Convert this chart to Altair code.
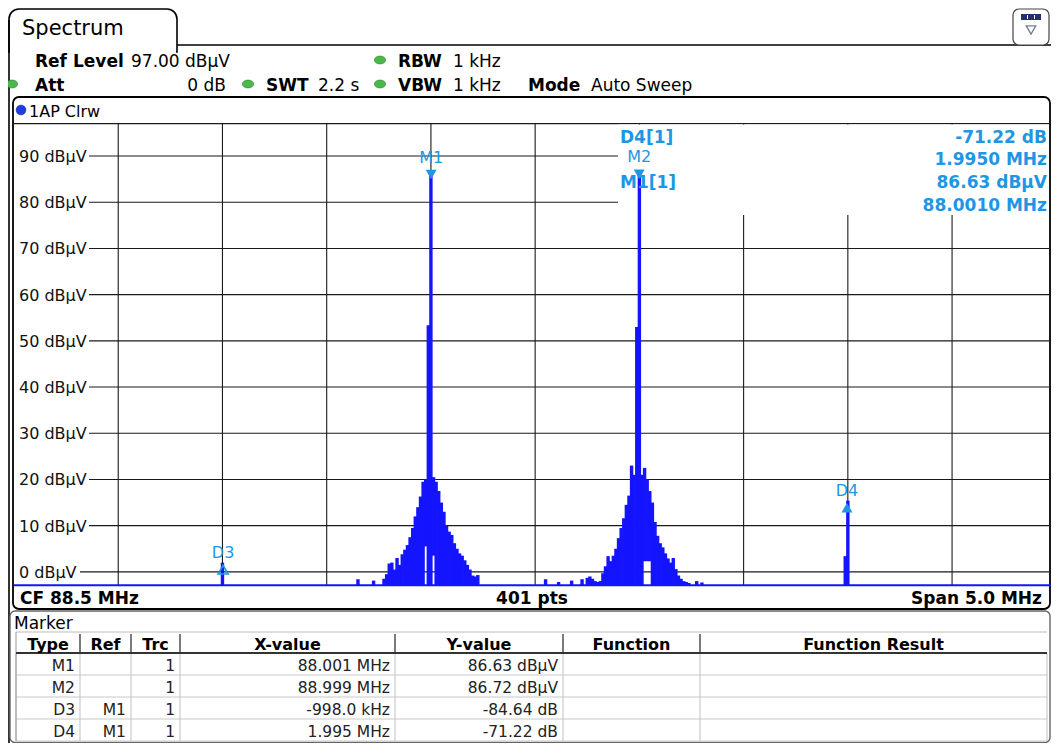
import altair as alt
import pandas as pd

FONT = "DejaVu Sans"
OX, OY = 8, 8          # page margin
W, H = 1043, 735       # whole chart in px (fits the 1059x755 window)

TRACE = "#1414ff"
MARK = "#1e96e6"
GRID = "#1a1a1a"

# ---------------- data ----------------
f_start, f_stop, n_points = 86.0, 91.0, 401
ref_level, y_bottom = 97.0, -3.0

y_ticks = [90, 80, 70, 60, 50, 40, 30, 20, 10, 0]
y_tick_labels = ["90 dBµV", "80 dBµV", "70 dBµV", "60 dBµV", "50 dBµV",
                 "40 dBµV", "30 dBµV", "20 dBµV", "10 dBµV", "0 dBµV"]
x_grid = [86.5, 87.0, 87.5, 88.0, 88.5, 89.0, 89.5, 90.0, 90.5]

hump1_first_idx = 142
hump1_levels = [-1.5, -0.5, 1.8, 2.0, 0.5, 3.0, 1.5, 3.8, 4.8, 5.8,
                7.5, 9.5, 12.0, 14.0, 16.3, 19.5, 20.0, 53.4, 86.63, 20.5,
                19.5, 17.5, 15.0, 13.0, 10.0, 8.7, 8.0, 6.2, 5.0, 4.0,
                3.5, 2.5, 1.5, 0.5, -0.8, -1.0]
hump2_first_idx = 220
hump2_levels = [-1.3, -1.0, -1.5, -2.0, -2.2, -2.0, -0.3, 1.2, 3.4, 2.3,
                3.5, 5.0, 7.3, 9.5, 11.6, 14.5, 16.5, 23.0, 21.0, 53.0,
                86.72, 21.0, 22.5, 20.0, 17.5, 15.0, 10.8, 7.8, 6.2, 5.3,
                4.0, 2.9, 2.0, 3.0, 0.6, -0.8, -1.5, -2.0, -2.2, -2.4]
spike_idx = [80, 132, 138, 178, 204, 209, 214, 218, 262, 264, 319, 320]
spike_levels = [1.99, -1.6, -1.9, -0.7, -1.6, -2.2, -1.9, -1.6, -2.0, -2.3, 3.4, 15.41]
notch_idx = [158, 161, 242, 243, 244]
notch_bottom = [5.5, 3.5, 2.3, 2.3, 2.3]
floor_level = -2.9

marker_names = ["M1", "M2", "D3", "D4"]
marker_freqs = [88.001, 88.999, 87.003, 89.996]
marker_levels = [86.63, 86.72, 1.99, 15.41]
marker_kind = ["M", "M", "D", "D"]

info_left = ["D4[1]", "M1[1]"]
info_right = ["-71.22 dB", "1.9950 MHz", "86.63 dBµV", "88.0010 MHz"]

table_cols = ["Type", "Ref", "Trc", "X-value", "Y-value", "Function", "Function Result"]
table_type = ["M1", "M2", "D3", "D4"]
table_ref = ["", "", "M1", "M1"]
table_trc = ["1", "1", "1", "1"]
table_x = ["88.001 MHz", "88.999 MHz", "-998.0 kHz", "1.995 MHz"]
table_y = ["86.63 dBµV", "86.72 dBµV", "-84.64 dB", "-71.22 dB"]

# ---------------- build tables ----------------
step = (f_stop - f_start) / (n_points - 1)
rows = []
for first, levels in ((hump1_first_idx, hump1_levels), (hump2_first_idx, hump2_levels)):
    for i, lv in enumerate(levels):
        rows.append({"idx": first + i, "top": lv})
for i, lv in zip(spike_idx, spike_levels):
    rows.append({"idx": i, "top": lv})
trace = pd.DataFrame(rows)
trace["freq"] = f_start + trace["idx"] * step
notch = dict(zip(notch_idx, notch_bottom))
trace["bottom"] = [notch.get(i, y_bottom) for i in trace["idx"]]

markers = pd.DataFrame({"name": marker_names, "freq": marker_freqs,
                        "level": marker_levels, "kind": marker_kind})
yticks = pd.DataFrame({"level": y_ticks, "label": y_tick_labels})
xgrid = pd.DataFrame({"freq": x_grid})
floor = pd.DataFrame({"f0": [f_start], "f1": [f_stop], "level": [floor_level]})

# ---------------- scales (page px -> chart px) ----------------
PL, PR, PT, PB = 14, 1056.3, 123.7, 585.7
RE = 1050      # right edge of visible frames (page px)
xs = alt.Scale(domain=[f_start, f_stop], range=[PL - OX, PR - OX], nice=False, zero=False)
ys = alt.Scale(domain=[y_bottom, ref_level], range=[PB - OY, PT - OY], nice=False, zero=False)

one = alt.Data(values=[{"k": 0}])
TY = 1.5   # small text baseline correction


def ptext(s, x, y, size=15, bold=False, color="#000", align="left"):
    return alt.Chart(one).mark_text(
        text=s, font=FONT, fontSize=size, fontWeight="bold" if bold else "normal",
        color=color, align=align, baseline="middle"
    ).encode(x=alt.value(x - OX), y=alt.value(y - OY + TY))


def hrule(x1, x2, y, color="#000", w=1.0):
    return alt.Chart(one).mark_rule(color=color, strokeWidth=w).encode(
        x=alt.value(x1 - OX), x2=alt.value(x2 - OX), y=alt.value(y - OY))


def vrule(x, y1, y2, color="#000", w=1.0):
    return alt.Chart(one).mark_rule(color=color, strokeWidth=w).encode(
        x=alt.value(x - OX), y=alt.value(y1 - OY), y2=alt.value(y2 - OY))


def prect(x1, y1, x2, y2, fill="#fff", stroke=None, sw=1.0, r=0, **kw):
    props = dict(fill=fill, strokeWidth=sw, cornerRadius=r, **kw)
    if stroke:
        props["stroke"] = stroke
    return alt.Chart(one).mark_rect(**props).encode(
        x=alt.value(x1 - OX), x2=alt.value(x2 - OX), y=alt.value(y1 - OY), y2=alt.value(y2 - OY))


ELLIPSE = "M -1 0 A 1 0.7 0 1 1 1 0 A 1 0.7 0 1 1 -1 0 Z"


def dot(x, y, fill="#4cb84c", stroke="#2e8b2e", size=130, shape=ELLIPSE):
    return alt.Chart(one).mark_point(shape=shape, filled=True, fill=fill, stroke=stroke,
                                     strokeWidth=0.6, size=size, opacity=1).encode(
        x=alt.value(x - OX), y=alt.value(y - OY))


layers = []

# ---- tab + frame ----
layers.append(prect(9, 9, 177, 52, stroke="#000", sw=1.6, r=0,
                    cornerRadiusTopLeft=10, cornerRadiusTopRight=10))
layers.append(prect(10, 44, 176, 56))
layers.append(hrule(177, 1059, 45, w=1.6))
layers.append(vrule(9, 20, 760, w=1.6))
layers.append(ptext("Spectrum", 22, 27, size=21))
# top-right icon
layers.append(prect(1013, 9, 1049, 45, stroke="#444", sw=1.2, r=6))
layers.append(prect(1021, 14, 1041, 20, fill="#24306e"))
layers.append(vrule(1027.5, 15, 19, color="#fff", w=1))
layers.append(vrule(1034.5, 15, 19, color="#fff", w=1))
layers.append(alt.Chart(one).mark_point(shape="triangle-down", filled=False, stroke="#34486e",
                                        strokeWidth=1.3, size=90).encode(
    x=alt.value(1031 - OX), y=alt.value(30 - OY)))

# ---- header settings ----
HS = 17
layers += [
    ptext("Ref Level", 35, 60, size=HS, bold=True),
    ptext("97.00 dBµV", 131, 60, size=HS),
    dot(380, 60), ptext("RBW", 398, 60, size=HS, bold=True), ptext("1 kHz", 453, 60, size=HS),
    dot(12, 84), ptext("Att", 35, 84, size=HS, bold=True),
    ptext("0 dB", 226, 84, size=HS, align="right"),
    dot(248, 84), ptext("SWT", 266, 84, size=HS, bold=True), ptext("2.2 s", 318, 84, size=HS),
    dot(380, 84), ptext("VBW", 398, 84, size=HS, bold=True), ptext("1 kHz", 453, 84, size=HS),
    ptext("Mode", 528, 84, size=HS, bold=True), ptext("Auto Sweep", 591, 84, size=HS),
]

# ---- plot box ----
layers.append(prect(13, 97, RE, 609, stroke="#000", sw=1.8, r=6))
layers.append(dot(21, 110, fill="#1c3ce6", stroke="#0a1a80", size=95, shape="circle"))
layers.append(ptext("1AP Clrw", 29, 110, size=16))
layers.append(hrule(13, RE, PT, color=GRID, w=1.2))

# vertical grid
layers.append(alt.Chart(xgrid).mark_rule(color=GRID, strokeWidth=1.1).encode(
    x=alt.X("freq:Q", scale=xs, axis=None),
    y=alt.value(PT - OY), y2=alt.value(PB - OY)))
# horizontal grid, starting after the in-plot labels
layers.append(alt.Chart(yticks).transform_filter("datum.level >= 10").mark_rule(
    color=GRID, strokeWidth=1.1).encode(
    y=alt.Y("level:Q", scale=ys, axis=None), x=alt.value(89 - OX), x2=alt.value(RE - OX)))
layers.append(alt.Chart(yticks).transform_filter("datum.level < 10").mark_rule(
    color=GRID, strokeWidth=1.1).encode(
    y=alt.Y("level:Q", scale=ys, axis=None), x=alt.value(80 - OX), x2=alt.value(RE - OX)))
layers.append(alt.Chart(yticks).mark_text(font=FONT, fontSize=16, align="left",
                                          baseline="middle", color="#111", dy=1).encode(
    y=alt.Y("level:Q", scale=ys, axis=None), x=alt.value(19 - OX), text="label:N"))

# marker info box (hides the grid)
layers.append(prect(618, PT + 0.8, RE - 1, 215))

# ---- trace ----
layers.append(alt.Chart(floor).mark_rule(color=TRACE, strokeWidth=2).encode(
    x=alt.X("f0:Q", scale=xs, axis=None), x2="f1:Q",
    y=alt.Y("level:Q", scale=ys, axis=None)))
layers.append(alt.Chart(trace).mark_rule(color=TRACE, strokeWidth=3.4).encode(
    x=alt.X("freq:Q", scale=xs, axis=None),
    y=alt.Y("top:Q", scale=ys, axis=None), y2="bottom:Q"))

# ---- info texts ----
for s, y in zip(info_left, [136, 181]):
    layers.append(ptext(s, 620, y, size=17, bold=True, color=MARK))
for s, y in zip(info_right, [136, 158, 181, 204]):
    layers.append(ptext(s, 1047, y, size=17, bold=True, color=MARK, align="right"))

# ---- markers ----
layers.append(alt.Chart(markers).transform_filter("datum.kind == 'M'").mark_point(
    shape="triangle-down", filled=True, color=MARK, size=120, opacity=1, yOffset=3).encode(
    x=alt.X("freq:Q", scale=xs, axis=None), y=alt.Y("level:Q", scale=ys, axis=None)))
layers.append(alt.Chart(markers).transform_filter("datum.name == 'D4'").mark_point(
    shape="triangle-up", filled=True, color=MARK, size=120, opacity=1, yOffset=7).encode(
    x=alt.X("freq:Q", scale=xs, axis=None), y=alt.Y("level:Q", scale=ys, axis=None)))
layers.append(alt.Chart(markers).transform_filter("datum.name == 'D3'").mark_point(
    shape="triangle-up", filled=False, color=MARK, size=100, strokeWidth=1.6, opacity=1,
    yOffset=7).encode(
    x=alt.X("freq:Q", scale=xs, axis=None), y=alt.Y("level:Q", scale=ys, axis=None)))
layers.append(alt.Chart(markers).transform_filter("datum.kind == 'M'").mark_text(
    font=FONT, fontSize=16, color=MARK, baseline="middle", dy=-14).encode(
    x=alt.X("freq:Q", scale=xs, axis=None), y=alt.Y("level:Q", scale=ys, axis=None),
    text="name:N"))
layers.append(alt.Chart(markers).transform_filter("datum.kind == 'D'").mark_text(
    font=FONT, fontSize=16, color=MARK, baseline="middle", dy=-10).encode(
    x=alt.X("freq:Q", scale=xs, axis=None), y=alt.Y("level:Q", scale=ys, axis=None),
    text="name:N"))

# ---- bottom status line ----
layers += [
    ptext("CF 88.5 MHz", 20, 597, size=17, bold=True),
    ptext("401 pts", 532, 597, size=17, bold=True, align="center"),
    ptext("Span 5.0 MHz", 1042, 597, size=17, bold=True, align="right"),
]

# ---- marker table ----
TT, TB = 611, 742.5
layers.append(prect(10, TT, RE, TB, stroke="#666", sw=1.4, r=5))
layers.append(ptext("Marker", 14, 622, size=17))
col_edges = [16, 80, 131, 180, 395, 563, 700, RE - 3]
HT, HB = 632, 653
row_h = 22
row_lines = [HB + row_h * (k + 1) for k in range(len(table_type))]
row_centers = [HB + row_h * k + row_h / 2 + 0.5 for k in range(len(table_type))]
layers.append(hrule(16, RE - 3, HT, color="#bbb", w=1))
for yl in row_lines:
    layers.append(hrule(16, RE - 3, yl, color="#c8c8c8", w=1))
for xe in col_edges:
    layers.append(vrule(xe, HB, row_lines[-1], color="#c0c0c0", w=1))
for xe in col_edges[1:-1]:
    layers.append(vrule(xe, HT + 2, HB, color="#333", w=1.3))
layers.append(vrule(16, HT, row_lines[-1], color="#999", w=1))
layers.append(hrule(16, RE - 3, HB, color="#333", w=2))
for c, (a, b) in zip(table_cols, zip(col_edges[:-1], col_edges[1:])):
    layers.append(ptext(c, (a + b) / 2, 643, size=16, bold=True, align="center"))
for r, yc in enumerate(row_centers):
    for vals, edge in ((table_type, col_edges[1]), (table_ref, col_edges[2]),
                       (table_trc, col_edges[3]), (table_x, col_edges[4]),
                       (table_y, col_edges[5])):
        if vals[r]:
            layers.append(ptext(vals[r], edge - 5, yc, size=15.5, align="right", color="#222"))

chart = alt.layer(*layers).properties(
    width=W, height=H, padding=0, autosize="none", background="#ffffff"
).configure_view(stroke=None)

chart.save("out.html", embed_options={"renderer": "svg", "actions": False})
